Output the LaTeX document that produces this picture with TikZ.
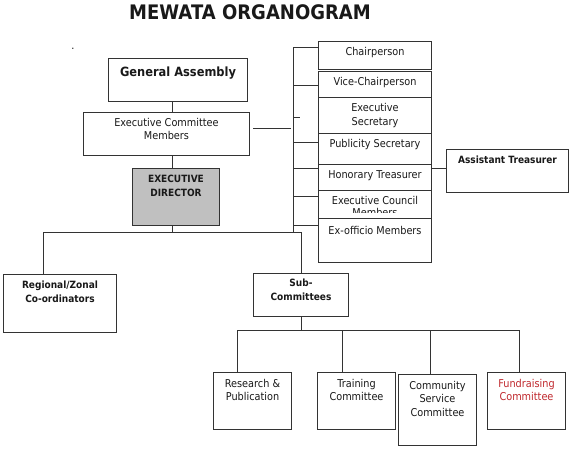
\documentclass[tikz,border=0pt]{standalone}
\usepackage{fontspec}
\setmainfont{DejaVu Sans}[FakeStretch=0.9]
\usepackage{xcolor}
\usetikzlibrary{positioning}
\definecolor{fundred}{RGB}{192,40,45}
\definecolor{edgray}{RGB}{192,192,192}

\begin{document}
\begin{tikzpicture}[
            x=1pt, y=-1pt,
            box/.style={draw=black!80, line width=1pt, fill=white, anchor=north west, inner sep=0pt},
            txt/.style={font=\fontsize{10.8}{13.5}\selectfont, align=center, inner sep=0pt, text=black!90},
            btxt/.style={txt, font=\bfseries\fontsize{10}{13.5}\selectfont},
            edge/.style={draw=black!80, line width=1pt}
        ]
        \useasboundingbox (0,0) rectangle (575,450);

        % Title
        \node[font=\bfseries\fontsize{20}{24}\selectfont, text=black!90] (title) at (250,12) {MEWATA ORGANOGRAM};
        \node[txt] (dot) at (73,49) {.};

        % Nodes (manual layout to match figure)
        \node[box, minimum width=139pt, minimum height=43pt] (ga) at (108,58) {};
        \node[txt, font=\bfseries\fontsize{12.7}{15}\selectfont, below=9pt of ga.north] (gaT) {General Assembly};

        \node[box, minimum width=166pt, minimum height=43pt] (ecm) at (83,112) {};
        \node[txt, below=5.7pt of ecm.north] (ecmT) {Executive Committee\\Members};

        \node[box, fill=edgray, minimum width=87pt, minimum height=57pt] (ed) at (132,168) {};
        \node[btxt, below=7pt of ed.north] (edT) {EXECUTIVE\\DIRECTOR};

        \node[box, minimum width=113pt, minimum height=58pt] (rz) at (3,274) {};
        \node[btxt, below=7pt of rz.north] (rzT) {Regional/Zonal\\Co-ordinators};

        \node[box, minimum width=95pt, minimum height=43pt] (sub) at (253,273) {};
        \node[btxt, below=6pt of sub.north] (subT) {Sub-\\Committees};

        % Officers
        \foreach \n/\y/\h/\t in {chair/41/28/Chairperson, vice/71/26/Vice-Chairperson,
                sec/97/36/{Executive\\Secretary}, pub/133/31/Publicity Secretary,
                hon/164/26/Honorary Treasurer}{
            \node[box, minimum width=113pt, minimum height=\h pt] (\n) at (318,\y) {};
            \node[txt, below=6.2pt of \n.north] (\n T) {\t};
        }
        \node[box, minimum width=113pt, minimum height=28pt] (coun) at (318,190) {};
        \begin{scope}
            % second line is cut off in the original
            \clip (318,190) rectangle (431,212);
            \node[txt, below=6.2pt of coun.north] (coun T) {Executive Council\\[-1.5pt]Members};
        \end{scope}
        \node[box, minimum width=113pt, minimum height=44pt] (exo) at (318,218) {};
        \node[txt, below=7.7pt of exo.north] (exoT) {Ex-officio Members};

        \node[box, minimum width=122pt, minimum height=43pt] (at) at (446,149) {};
        \node[btxt, below=7pt of at.north] (atT) {Assistant Treasurer};

        % Sub-committees
        \foreach \n/\x/\y/\h/\t in {rp/213/372/57/{Research \&\\Publication},
                tc/317/372/57/{Training\\Committee}, cs/398/374/71/{Community\\Service\\Committee}}{
            \node[box, minimum width=78pt, minimum height=\h pt] (\n) at (\x,\y) {};
            \node[txt, below=6.7pt of \n.north] (\n T) {\t};
        }
        \node[box, minimum width=78pt, minimum height=57pt] (fc) at (487,372) {};
        \node[txt, text=fundred, below=6.7pt of fc.north] (fcT) {Fundraising\\Committee};

        % Edges
        \coordinate (trunk) at (172,232);
        \coordinate (spine) at (293,232);
        \coordinate (rz-drop) at (43,232);
        \coordinate (ecmlink) at (253,128);
        \coordinate (ecmend) at (291,128);

        \draw[edge] (ga.south -| trunk) -- (ecm.north -| trunk);
        \draw[edge] (ecm.south -| trunk) -- (ed.north -| trunk);
        \draw[edge] (ed.south -| trunk) -- (trunk);
        \draw[edge] (rz.north -| rz-drop) -- (rz-drop) -- (sub.north |- rz-drop) -- (sub.north);

        \draw[edge] (ecmlink) -- (ecmend);
        \draw[edge] (spine |- 0,47) -- (spine);
        \foreach \n/\y in {chair/47, vice/85, pub/142, hon/168, coun/196, exo/225}
            \draw[edge] (spine |- 0,\y) -- (\n.west |- 0,\y);
        \draw[edge] (spine |- 0,117) -- ++(7,0);
        \draw[edge] (hon.east |- 0,168) -- (at.west |- 0,168);

        \coordinate (subbus) at (301,330);
        \draw[edge] (sub.south) -- (sub.south |- subbus);
        \foreach \n/\x in {rp/237, tc/342, cs/430, fc/519}{
            \coordinate (\n-drop) at (\x,330);
            \draw[edge] (\n-drop) -- (\n-drop |- \n.north);
        }
        \draw[edge] (rp-drop) -- (fc-drop);

    \end{tikzpicture}
\end{document}
